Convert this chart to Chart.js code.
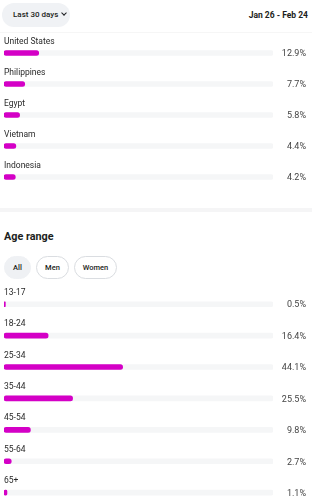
<!DOCTYPE html>
<html>
<head>
<meta charset="utf-8">
<script src="https://cdn.jsdelivr.net/npm/chart.js@4"></script>
<style>
  html, body { margin: 0; padding: 0; background: #fff; width: 312px; height: 500px; overflow: hidden; font-family: Roboto, "Noto Sans", sans-serif; }
  .page { position: relative; width: 312px; height: 500px; }
  .range-pill { position: absolute; left: 2px; top: 3px; width: 68px; height: 24px; border-radius: 12px; background: #f0f2f5; font-size: 8px; font-weight: 500; color: #1c1e21; line-height: 24px; padding-left: 11px; box-sizing: border-box; white-space: nowrap; }
  .chev { display: inline-block; width: 3px; height: 3px; border-right: 1.1px solid #1c1e21; border-bottom: 1.1px solid #1c1e21; transform: rotate(45deg); margin-left: 4px; position: relative; top: -2px; }
  .dates { position: absolute; right: 4px; top: 10px; font-size: 8.5px; font-weight: 700; color: #1c1e21; white-space: nowrap; }
  .hline { position: absolute; left: 0; top: 32px; width: 312px; height: 1px; background: #f6f6f6; }
  .divider { position: absolute; left: 0; top: 208px; width: 312px; height: 4px; background: #f5f5f6; }
  .title { position: absolute; left: 4px; top: 230px; font-size: 10.8px; font-weight: 700; color: #1c1e21; }
  .chip { position: absolute; top: 256px; height: 23px; border-radius: 12px; font-size: 7.5px; font-weight: 500; color: #1c1e21; line-height: 21px; text-align: center; box-sizing: border-box; border: 1px solid #dadde1; background: #fff; }
  .chip.on { background: #eff1f4; border-color: #eff1f4; }
  #countryBox { position: absolute; left: 0; top: 30px; width: 312px; height: 170px; }
  #ageBox { position: absolute; left: 0; top: 280px; width: 312px; height: 229px; }
</style>
</head>
<body>
<div class="page">
  <div class="range-pill">Last 30 days<span class="chev"></span></div>
  <div class="dates">Jan 26 - Feb 24</div>
  <div class="hline"></div>
  <div id="countryBox"><canvas id="countryChart"></canvas></div>
  <div class="divider"></div>
  <div class="title">Age range</div>
  <div class="chip on" style="left:4px;width:27px;">All</div>
  <div class="chip" style="left:36px;width:33px;">Men</div>
  <div class="chip" style="left:74px;width:43px;">Women</div>
  <div id="ageBox"><canvas id="ageChart"></canvas></div>
</div>
<script>
const countries = ['United States', 'Philippines', 'Egypt', 'Vietnam', 'Indonesia'];
const countryShare = [12.9, 7.7, 5.8, 4.4, 4.2];

const ageGroups = ['13-17', '18-24', '25-34', '35-44', '45-54', '55-64', '65+'];
const ageShare = [0.5, 16.4, 44.1, 25.5, 9.8, 2.7, 1.1];

const trackMax = 100;

// labels above each bar + percent at the right end
const rowText = {
    id: 'rowText',
    afterDatasetsDraw(chart) {
        const c = chart.ctx;
        const y = chart.scales.y;
        const vals = chart.data.datasets[0].data;
        c.save();
        chart.data.labels.forEach(function (lab, i) {
            const py = y.getPixelForValue(i);
            c.textBaseline = 'middle';
            c.fillStyle = '#2a2a2a';
            c.font = '8.5px Roboto';
            c.textAlign = 'left';
            c.fillText(lab, 4, py - 11.5);
            c.fillStyle = '#444';
            c.font = '9px Roboto';
            c.textAlign = 'right';
            c.fillText(vals[i].toFixed(1) + '%', 306, py + 1);
        });
        c.restore();
    }
};

function makeBars(el, labels, values, padTop, padBottom) {
    return new Chart(el, {
        type: 'bar',
        data: {
            labels: labels,
            datasets: [{
                data: values,
                backgroundColor: '#d400c6',
                barThickness: 5,
                borderRadius: 3,
                borderSkipped: false,
                grouped: false,
                order: 0
            }, {
                data: labels.map(function () { return trackMax; }),
                backgroundColor: '#f5f6f7',
                barThickness: 5,
                borderRadius: 2,
                borderSkipped: false,
                grouped: false,
                order: 1
            }]
        },
        options: {
            indexAxis: 'y',
            responsive: true,
            maintainAspectRatio: false,
            animation: false,
            layout: { padding: { left: 4, right: 39, top: padTop, bottom: padBottom } },
            plugins: {
                legend: { display: false },
                tooltip: { enabled: false }
            },
            scales: {
                x: { display: false, min: 0, max: trackMax },
                y: { display: false }
            }
        },
        plugins: [rowText]
    });
}

makeBars(document.getElementById('countryChart'), countries, countryShare, 7.5, 7.5);
makeBars(document.getElementById('ageChart'), ageGroups, ageShare, 8.5, 0.6);
</script>
</body>
</html>
